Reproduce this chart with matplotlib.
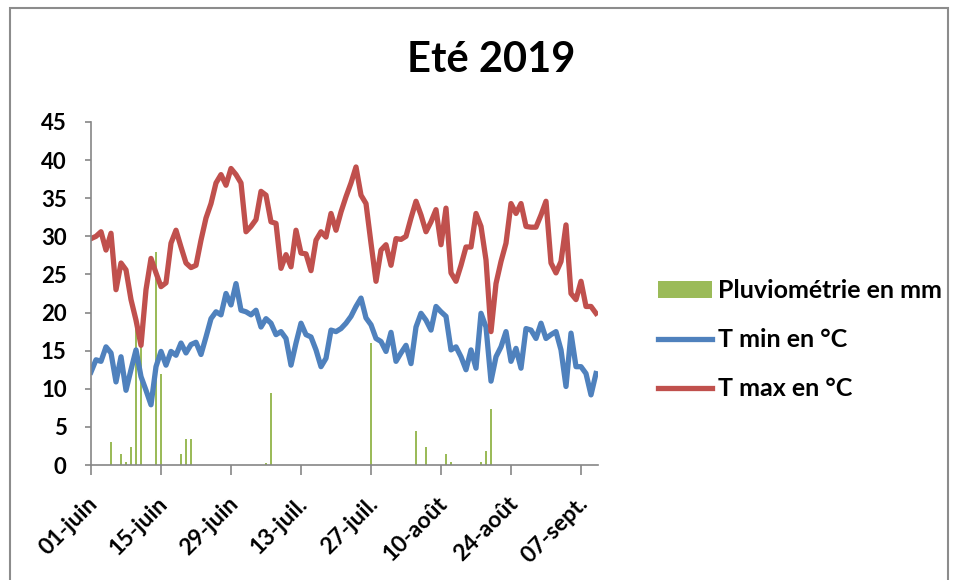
import matplotlib
matplotlib.use('Agg')
import matplotlib.pyplot as plt
from matplotlib.patches import Rectangle
from matplotlib.transforms import ScaledTranslation
import numpy as np

# relevés journaliers du 01-juin au 10-sept. 2019
tmax = [29.7, 30.0, 30.6, 28.2, 30.4, 23.0, 26.5, 25.6, 21.7, 19.0,
        15.7, 23.0, 27.1, 25.2, 23.4, 23.9, 29.1, 30.8, 28.6, 26.5,
        25.9, 26.2, 29.5, 32.4, 34.3, 37.0, 38.1, 36.7, 38.9, 38.1,
        37.0, 30.6, 31.3, 32.2, 35.9, 35.4, 31.9, 31.7, 25.8, 27.6,
        26.0, 30.8, 27.8, 27.7, 25.5, 29.5, 30.6, 29.9, 33.0, 30.8,
        33.2, 35.2, 37.0, 39.1, 35.4, 34.3, 29.1, 24.1, 28.2, 28.9,
        26.2, 29.7, 29.6, 30.0, 32.4, 34.6, 32.8, 30.6, 31.9, 33.5,
        28.9, 33.7, 25.2, 24.1, 26.2, 28.6, 28.6, 33.0, 31.3, 26.9,
        17.5, 23.8, 26.7, 29.1, 34.3, 33.0, 34.3, 31.3, 31.2, 31.2,
        32.8, 34.6, 26.5, 25.2, 26.7, 31.5, 22.5, 21.7, 24.1, 20.8,
        20.8, 19.9]

tmin = [12.2, 13.8, 13.6, 15.5, 14.7, 10.9, 14.2, 9.8, 12.5, 15.1,
        11.6, 9.8, 7.9, 12.9, 14.9, 13.1, 14.9, 14.4, 16.0, 14.7,
        15.8, 16.1, 14.5, 16.8, 19.2, 20.1, 19.7, 22.5, 21.0, 23.8,
        20.3, 20.1, 19.7, 20.3, 18.1, 19.2, 18.6, 17.1, 17.5, 16.6,
        13.1, 16.0, 18.6, 17.1, 16.8, 15.1, 12.9, 14.0, 17.7, 17.5,
        17.9, 18.6, 19.5, 20.8, 21.9, 19.3, 18.4, 16.6, 16.2, 14.9,
        17.4, 13.6, 14.7, 15.7, 13.3, 18.1, 19.9, 19.0, 17.7, 20.8,
        20.1, 19.5, 15.1, 15.5, 14.2, 12.5, 15.1, 12.7, 19.9, 18.1,
        11.0, 14.2, 15.5, 17.5, 13.6, 15.3, 12.7, 17.9, 17.7, 16.6,
        18.6, 16.6, 17.1, 17.5, 15.1, 10.3, 17.3, 12.9, 12.9, 12.0,
        9.2, 12.0]

pluie = [0, 0, 0, 0, 3.0, 0, 1.4, 0.35, 2.4, 18.5,
         16.5, 0, 0, 28.0, 12.0, 0, 0, 0, 1.4, 3.4,
         3.4, 0, 0, 0, 0, 0, 0, 0, 0, 0,
         0, 0, 0, 0, 0, 0.3, 9.5, 0, 0, 0,
         0, 0, 0, 0, 0, 0, 0, 0, 0, 0,
         0, 0, 0, 0, 0, 0, 16.0, 0, 0, 0,
         0, 0, 0, 0, 0, 4.5, 0, 2.4, 0, 0,
         0, 1.4, 0.35, 0, 0, 0, 0, 0, 0.4, 1.9,
         7.4, 0, 0, 0, 0, 0, 0, 0, 0, 0,
         0, 0, 0, 0, 0, 0, 0, 0, 0, 0,
         0, 0]

tick_days = [0, 14, 28, 42, 56, 70, 84, 98]
tick_labels = ['01-juin', '15-juin', '29-juin', '13-juil.', '27-juil.',
               '10-août', '24-août', '07-sept.']

plt.rcParams['font.family'] = ['Lato', 'DejaVu Sans']
plt.rcParams['font.weight'] = 'bold'

fig = plt.figure(figsize=(9.58, 5.8), dpi=100)
ax = fig.add_axes([91/958, 115/580, 507/958, 343/580])

days = np.arange(len(tmax))
bars = ax.bar(days, pluie, width=0.45, color='#9BBB59', label='Pluviométrie en mm', zorder=1)
l_min, = ax.plot(days, tmin, color='#4F81BD', lw=3.8, label='T min en °C',
                 solid_joinstyle='round', zorder=2)
l_max, = ax.plot(days, tmax, color='#C0504D', lw=3.8, label='T max en °C',
                 solid_joinstyle='round', zorder=2)

ax.set_xlim(0, 101.4)
ax.set_ylim(0, 45)
ax.set_yticks(range(0, 46, 5))
ax.set_xticks(tick_days)
ax.set_xticklabels(tick_labels, rotation=45, ha='right', va='top')

for s in ['top', 'right']:
    ax.spines[s].set_visible(False)
for s in ['left', 'bottom']:
    ax.spines[s].set_color('#868686')
    ax.spines[s].set_linewidth(1.2)
ax.tick_params(axis='x', length=7, width=1.2, color='#868686', pad=13, labelsize=16.5)
ax.tick_params(axis='y', length=4.5, width=1.2, color='#868686', pad=13, labelsize=16)

shift = ScaledTranslation(11/100, 0, fig.dpi_scale_trans)
for lbl in ax.get_xticklabels():
    lbl.set_transform(lbl.get_transform() + shift)

fig.text(491/958, 1 - 60/580, 'Eté 2019', ha='center', va='center',
         fontsize=30, fontweight='bold')

fig.legend(handles=[bars, l_min, l_max],
           loc='upper left', bbox_to_anchor=(658/958, 1 - 279/580),
           frameon=False, fontsize=18, handlelength=2.15, handletextpad=0.25,
           labelspacing=1.05, borderpad=0, borderaxespad=0)

fig.patches.append(Rectangle((10/958, -0.1), 938/958, 1.1 - 8/580,
                             transform=fig.transFigure, fill=False,
                             edgecolor='#8C8C8C', lw=1.5))

fig.savefig('out.png', dpi=100)
